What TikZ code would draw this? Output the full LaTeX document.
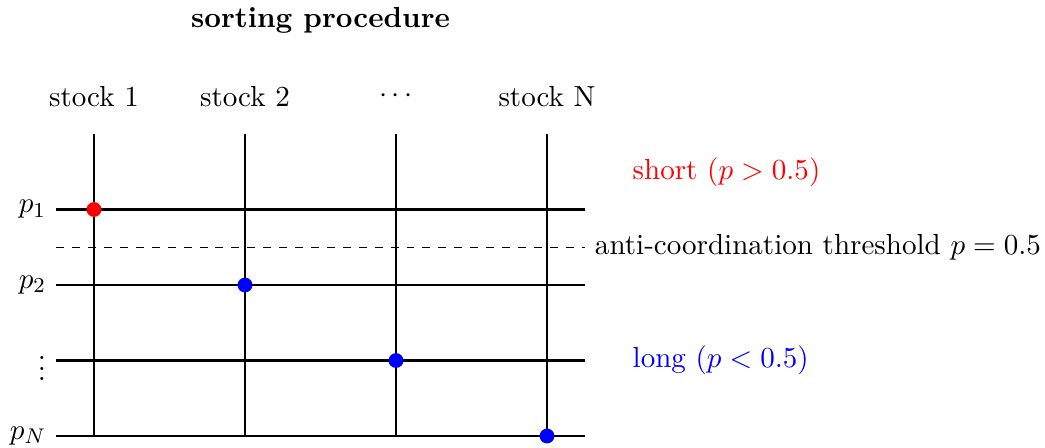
\documentclass[11pt,tikz,border=0pt]{standalone}
\begin{document}
\begin{tikzpicture}[gridline/.style={thick}, pick/.style={circle,fill,inner sep=0pt,minimum size=5.6pt}]
        \useasboundingbox (-1.245,-0.146) rectangle (12.596,5.775);
        % title
            \node[font=\bfseries] (title) at (3,5.5) {sorting procedure};
        % stocks
            \foreach \x/\n/\t in {0/1/stock 1,2/2/stock 2,4/3/\(\cdots\),6/4/stock N}{
                \node (stock\n) at (\x,4.5) {\t};
                \coordinate (top\n) at (\x,4);
                \coordinate (bot\n) at (\x,0);
                \draw[gridline] (top\n) -- (bot\n);
            }
        % ranks
            \foreach \y/\n/\t in {3/1/p_1,2/2/p_2,1/3/\vdots,0/4/p_N}{
                \node[anchor=east] (rank\n) at (-0.5,\y) {\(\t\)};
                \coordinate (end\n) at (6.5,\y);
                \draw[gridline] (rank\n.east) -- (end\n);
            }
        % threshold
            \coordinate (thrstart) at (-0.5,2.5);
            \node[anchor=west] (thr) at (6.5,2.5) {anti-coordination threshold \(p=0.5\)};
            \draw[dashed] (thrstart) -- (thr.west);
        % positions
            \node[pick,red] (pick1) at (0,3) {};
            \foreach \x/\y/\n in {2/2/2,4/1/3,6/0/4}{
                \node[pick,blue] (pick\n) at (\x,\y) {};
            }
        % labels
            \node[anchor=west,red] (short) at (7,3.5) {short (\(p>0.5\))};
            \node[anchor=west,blue] (long) at (7,1) {long (\(p<0.5\))};
        \end{tikzpicture}
\end{document}
